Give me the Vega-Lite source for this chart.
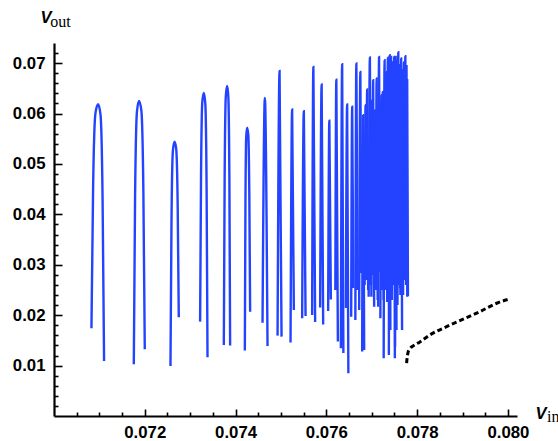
{
  "$schema": "https://vega.github.io/schema/vega-lite/v6.json",
  "autosize": {"type": "none"},
  "padding": {"left": 54, "top": 43, "right": 41, "bottom": 25},
  "width": 463,
  "height": 373,
  "background": "white",
  "config": {
    "view": {"stroke": null},
    "axis": {"grid": false, "domainColor": "black", "tickColor": "black", "labelColor": "black", "titleColor": "black", "labelFlush": false}
  },
  "datasets": {
    "osc": [
      {"s":1,"x":0.070825,"y":0.017414},{"s":1,"x":0.070862,"y":0.045601},{"s":1,"x":0.070913,"y":0.060091},{"s":1,"x":0.070971,"y":0.061875},{"s":1,"x":0.071024,"y":0.059833},{"s":1,"x":0.071070,"y":0.043242},{"s":1,"x":0.071103,"y":0.010932},
      {"s":2,"x":0.071758,"y":0.010277},{"s":2,"x":0.071786,"y":0.043399},{"s":2,"x":0.071828,"y":0.060446},{"s":2,"x":0.071874,"y":0.062527},{"s":2,"x":0.071925,"y":0.060565},{"s":2,"x":0.071969,"y":0.044490},{"s":2,"x":0.072000,"y":0.013251},
      {"s":3,"x":0.072566,"y":0.009941},{"s":3,"x":0.072588,"y":0.038127},{"s":3,"x":0.072619,"y":0.052616},{"s":3,"x":0.072655,"y":0.054400},{"s":3,"x":0.072692,"y":0.053013},{"s":3,"x":0.072725,"y":0.041655},{"s":3,"x":0.072749,"y":0.019594},
      {"s":4,"x":0.073219,"y":0.018722},{"s":4,"x":0.073239,"y":0.047502},{"s":4,"x":0.073267,"y":0.062289},{"s":4,"x":0.073300,"y":0.064113},{"s":4,"x":0.073333,"y":0.062012},{"s":4,"x":0.073362,"y":0.044926},{"s":4,"x":0.073382,"y":0.011665},
      {"s":5,"x":0.073741,"y":0.014103},{"s":5,"x":0.073759,"y":0.046690},{"s":5,"x":0.073785,"y":0.063439},{"s":5,"x":0.073814,"y":0.065501},{"s":5,"x":0.073840,"y":0.063439},{"s":5,"x":0.073864,"y":0.046630},{"s":5,"x":0.073880,"y":0.013964},
      {"s":6,"x":0.074204,"y":0.013013},{"s":6,"x":0.074217,"y":0.041041},{"s":6,"x":0.074235,"y":0.055451},{"s":6,"x":0.074255,"y":0.057215},{"s":6,"x":0.074281,"y":0.055748},{"s":6,"x":0.074303,"y":0.043855},{"s":6,"x":0.074321,"y":0.020704},
      {"s":7,"x":0.074594,"y":0.018523},{"s":7,"x":0.074645,"y":0.063122},{"s":7,"x":0.074704,"y":0.013905},
      {"s":8,"x":0.074925,"y":0.015947},{"s":8,"x":0.074969,"y":0.068474},{"s":8,"x":0.075013,"y":0.015748},
      {"s":9,"x":0.075211,"y":0.014559},{"s":9,"x":0.075246,"y":0.060823},{"s":9,"x":0.075284,"y":0.021041},
      {"s":10,"x":0.075467,"y":0.019395},{"s":10,"x":0.075504,"y":0.060486},{"s":10,"x":0.075542,"y":0.019851},
      {"s":11,"x":0.075687,"y":0.020050},{"s":11,"x":0.075714,"y":0.069267},{"s":11,"x":0.075753,"y":0.018662},
      {"s":12,"x":0.075863,"y":0.021536},{"s":12,"x":0.075896,"y":0.065778},{"s":12,"x":0.075930,"y":0.018167},
      {"s":13,"x":0.076040,"y":0.020842},{"s":13,"x":0.076066,"y":0.058603},{"s":13,"x":0.076099,"y":0.023122},
      {"s":14,"x":0.076198,"y":0.025005},{"s":14,"x":0.076220,"y":0.066730},{"s":14,"x":0.076254,"y":0.014757},
      {"s":15,"x":0.076320,"y":0.013449},{"s":15,"x":0.076348,"y":0.069802},{"s":15,"x":0.076375,"y":0.012517},
      {"s":16,"x":0.076430,"y":0.021437},{"s":16,"x":0.076458,"y":0.061814},{"s":16,"x":0.076485,"y":0.008494},
      {"s":17,"x":0.076547,"y":0.019713},{"s":17,"x":0.076569,"y":0.061338},{"s":17,"x":0.076595,"y":0.025401},
      {"s":18,"x":0.076639,"y":0.019058},{"s":18,"x":0.076661,"y":0.069941},{"s":18,"x":0.076690,"y":0.025004},
      {"s":19,"x":0.076723,"y":0.021040},{"s":19,"x":0.076749,"y":0.068276},{"s":19,"x":0.076773,"y":0.028374},
      {"s":20,"x":0.076789,"y":0.012774},{"s":20,"x":0.076811,"y":0.059693},{"s":20,"x":0.076833,"y":0.013111},
      {"s":21,"x":0.076844,"y":0.025995},{"s":21,"x":0.076864,"y":0.061675},{"s":21,"x":0.076881,"y":0.028969},
      {"s":22,"x":0.076877,"y":0.026986},{"s":22,"x":0.076899,"y":0.064787},{"s":22,"x":0.076921,"y":0.025004},
      {"s":23,"x":0.076932,"y":0.023676},{"s":23,"x":0.076959,"y":0.071130},{"s":23,"x":0.076985,"y":0.025995},
      {"s":24,"x":0.076992,"y":0.023676},{"s":24,"x":0.077009,"y":0.062666},{"s":24,"x":0.077025,"y":0.030554},
      {"s":25,"x":0.077014,"y":0.027977},{"s":25,"x":0.077031,"y":0.066630},{"s":25,"x":0.077053,"y":0.021694},
      {"s":26,"x":0.077058,"y":0.028969},{"s":26,"x":0.077075,"y":0.060684},{"s":26,"x":0.077091,"y":0.026986},
      {"s":27,"x":0.077091,"y":0.025004},{"s":27,"x":0.077108,"y":0.066967},{"s":27,"x":0.077131,"y":0.023022},
      {"s":28,"x":0.077142,"y":0.021694},{"s":28,"x":0.077161,"y":0.071249},{"s":28,"x":0.077183,"y":0.028572},
      {"s":29,"x":0.077190,"y":0.019395},{"s":29,"x":0.077212,"y":0.063657},{"s":29,"x":0.077230,"y":0.025004},
      {"s":30,"x":0.077223,"y":0.027977},{"s":30,"x":0.077243,"y":0.064311},{"s":30,"x":0.077263,"y":0.023022},
      {"s":31,"x":0.077263,"y":0.011466},{"s":31,"x":0.077283,"y":0.070595},{"s":31,"x":0.077303,"y":0.025004},
      {"s":32,"x":0.077307,"y":0.027977},{"s":32,"x":0.077322,"y":0.068216},{"s":32,"x":0.077340,"y":0.022626},
      {"s":33,"x":0.077338,"y":0.026986},{"s":33,"x":0.077355,"y":0.071090},{"s":33,"x":0.077373,"y":0.029960},
      {"s":34,"x":0.077377,"y":0.012120},{"s":34,"x":0.077395,"y":0.071586},{"s":34,"x":0.077410,"y":0.017075},
      {"s":35,"x":0.077406,"y":0.025004},{"s":35,"x":0.077426,"y":0.071249},{"s":35,"x":0.077443,"y":0.027977},
      {"s":36,"x":0.077443,"y":0.023022},{"s":36,"x":0.077461,"y":0.070198},{"s":36,"x":0.077479,"y":0.025995},
      {"s":37,"x":0.077476,"y":0.029365},{"s":37,"x":0.077494,"y":0.071249},{"s":37,"x":0.077514,"y":0.013765},
      {"s":38,"x":0.077509,"y":0.011466},{"s":38,"x":0.077527,"y":0.071249},{"s":38,"x":0.077545,"y":0.017075},
      {"s":39,"x":0.077542,"y":0.023022},{"s":39,"x":0.077560,"y":0.070595},{"s":39,"x":0.077576,"y":0.028969},
      {"s":40,"x":0.077567,"y":0.022031},{"s":40,"x":0.077585,"y":0.072181},{"s":40,"x":0.077602,"y":0.025995},
      {"s":41,"x":0.077598,"y":0.027977},{"s":41,"x":0.077615,"y":0.069604},{"s":41,"x":0.077631,"y":0.024013},
      {"s":42,"x":0.077626,"y":0.025401},{"s":42,"x":0.077648,"y":0.070932},{"s":42,"x":0.077668,"y":0.017075},
      {"s":43,"x":0.077664,"y":0.029960},{"s":43,"x":0.077681,"y":0.068613},{"s":43,"x":0.077699,"y":0.027977},
      {"s":44,"x":0.077690,"y":0.024013},{"s":44,"x":0.077708,"y":0.070198},{"s":44,"x":0.077726,"y":0.026986},
      {"s":45,"x":0.077720,"y":0.027977},{"s":45,"x":0.077740,"y":0.071388},{"s":45,"x":0.077757,"y":0.025995},
      {"s":46,"x":0.077749,"y":0.028969},{"s":46,"x":0.077766,"y":0.069405},{"s":46,"x":0.077783,"y":0.023676},
      {"s":47,"x":0.077764,"y":0.026986},{"s":47,"x":0.077781,"y":0.066630},{"s":47,"x":0.077797,"y":0.023815}
    ],
    "branch": [
      {"x":0.077768,"y":0.010474},{"x":0.077779,"y":0.011525},{"x":0.077797,"y":0.012516},{"x":0.077829,"y":0.013250},
      {"x":0.077913,"y":0.013904},{"x":0.078061,"y":0.014697},{"x":0.078281,"y":0.016084},{"x":0.078649,"y":0.017730},
      {"x":0.079015,"y":0.019196},{"x":0.079383,"y":0.020703},{"x":0.079751,"y":0.022368},{"x":0.080007,"y":0.023161}
    ]
  },
  "layer": [
    {
      "data": {"name": "osc"},
      "mark": {"type": "line", "color": "#2343ff", "strokeWidth": 2.4, "interpolate": "monotone", "clip": true},
      "encoding": {
        "x": {
          "field": "x", "type": "quantitative",
          "scale": {"domain": [0.070, 0.0802], "nice": false, "zero": false},
          "axis": {
            "orient": "bottom", "values": [0.072, 0.074, 0.076, 0.078, 0.080], "format": ".3f",
            "domainWidth": 2.2, "tickWidth": 1.6, "tickSize": -7, "labelPadding": 15,
            "labelFont": "Liberation Sans", "labelFontWeight": "bold", "labelFontSize": 16.8,
            "title": "V", "titleFont": "Liberation Sans", "titleFontWeight": "bold", "titleFontStyle": "italic", "titleFontSize": 16.5,
            "titleAlign": "left", "titleBaseline": "alphabetic", "titleX": 481, "titleY": 2
          }
        },
        "y": {
          "field": "y", "type": "quantitative",
          "scale": {"domain": [0, 0.074], "nice": false, "zero": false},
          "axis": {
            "orient": "left", "values": [0.01, 0.02, 0.03, 0.04, 0.05, 0.06, 0.07], "format": ".2f",
            "domainWidth": 2.2, "tickWidth": 1.6, "tickSize": -8, "labelPadding": 17,
            "labelFont": "Liberation Sans", "labelFontWeight": "bold", "labelFontSize": 16.8,
            "title": "V", "titleFont": "Liberation Sans", "titleFontWeight": "bold", "titleFontStyle": "italic", "titleFontSize": 16.5,
            "titleAngle": 0, "titleAlign": "left", "titleBaseline": "alphabetic", "titleX": -14, "titleY": -21
          }
        },
        "detail": {"field": "s", "type": "nominal"}
      }
    },
    {
      "data": {"name": "branch"},
      "mark": {"type": "line", "color": "black", "strokeWidth": 3, "strokeDash": [5, 3], "interpolate": "monotone"},
      "encoding": {
        "x": {
          "field": "x", "type": "quantitative",
          "scale": {"domain": [0.070, 0.0802], "nice": false, "zero": false},
          "axis": {
            "orient": "bottom", "domain": false, "labels": false, "tickSize": -4, "tickWidth": 1.6,
            "values": [0.0705, 0.071, 0.0715, 0.0725, 0.073, 0.0735, 0.0745, 0.075, 0.0755, 0.0765, 0.077, 0.0775, 0.0785, 0.079, 0.0795],
            "title": "in", "titleFont": "Liberation Serif", "titleFontWeight": "normal", "titleFontSize": 16,
            "titleAlign": "left", "titleBaseline": "alphabetic", "titleX": 492.5, "titleY": 5.5
          }
        },
        "y": {
          "field": "y", "type": "quantitative",
          "scale": {"domain": [0, 0.074], "nice": false, "zero": false},
          "axis": {
            "orient": "left", "domain": false, "labels": false, "tickSize": -4, "tickWidth": 1.6,
            "values": [0.002, 0.004, 0.006, 0.008, 0.012, 0.014, 0.016, 0.018, 0.022, 0.024, 0.026, 0.028, 0.032, 0.034, 0.036, 0.038, 0.042, 0.044, 0.046, 0.048, 0.052, 0.054, 0.056, 0.058, 0.062, 0.064, 0.066, 0.068, 0.072],
            "title": "out", "titleFont": "Liberation Serif", "titleFontWeight": "normal", "titleFontSize": 16,
            "titleAngle": 0, "titleAlign": "left", "titleBaseline": "alphabetic", "titleX": -4.3, "titleY": -17
          }
        }
      }
    }
  ],
  "resolve": {"axis": {"x": "independent", "y": "independent"}}
}
